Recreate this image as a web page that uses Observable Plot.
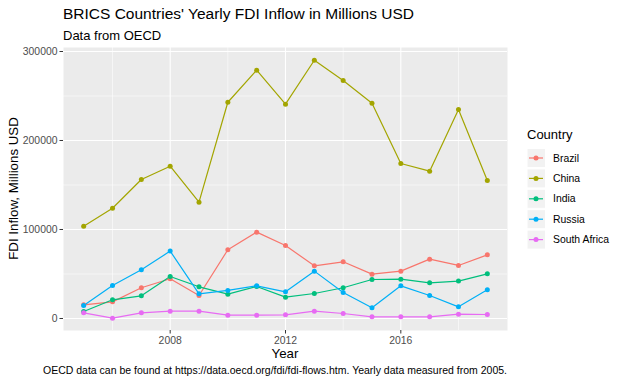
<!DOCTYPE html>
<html>
<head>
<meta charset="utf-8">
<script src="https://cdn.jsdelivr.net/npm/d3@7"></script>
<script src="https://cdn.jsdelivr.net/npm/@observablehq/plot@0.6"></script>
<style>
  html, body { margin: 0; padding: 0; background: white; }
  #chart svg { display: block; }
</style>
</head>
<body>
<div id="chart"></div>
<script>
// ---- Data ----
const years = [2005, 2006, 2007, 2008, 2009, 2010, 2011, 2012, 2013, 2014, 2015, 2016, 2017, 2018, 2019];
const countries = ["Brazil", "China", "India", "Russia", "South Africa"];
const colors = ["#F8766D", "#A3A500", "#00BF7D", "#00B0F6", "#E76BF3"];

const brazil      = [15400, 18700, 34500, 44600, 25800, 77200, 97000, 82000, 59200, 63700, 49800, 53200, 66700, 59600, 71500];
const china       = [103700, 123900, 156200, 171100, 130700, 243000, 279000, 240800, 290200, 267400, 241900, 174200, 165500, 234800, 155100];
const india       = [7900, 21000, 25500, 47200, 35600, 27300, 36000, 24000, 28100, 34500, 43800, 44200, 40100, 42000, 50200];
const russia      = [14600, 37100, 54700, 75700, 27700, 31500, 36700, 30000, 53200, 29200, 12000, 36700, 25800, 13100, 32200];
const southAfrica = [6400, 400, 6400, 8200, 8200, 3700, 3700, 4100, 8200, 5600, 1900, 1900, 1900, 4900, 4500];

const xTicks = [2008, 2012, 2016];
const xMinor = [2006, 2010, 2014, 2018];
const yTicks = [0, 100000, 200000, 300000];
const yMinor = [50000, 150000, 250000];

const titleText = "BRICS Countries' Yearly FDI Inflow in Millions USD";
const subtitleText = "Data from OECD";
const xLabel = "Year";
const yLabel = "FDI Inflow, Millions USD";
const legendTitle = "Country";
const captionText = "OECD data can be found at https://data.oecd.org/fdi/fdi-flows.htm. Yearly data measured from 2005.";

const series = [brazil, china, india, russia, southAfrica];
const data = [];
countries.forEach((c, i) => years.forEach((y, j) => data.push({country: c, year: y, value: series[i][j]})));

const FONT = "'Liberation Sans', Arial, sans-serif";
const W = 624, H = 385;
const mL = 63, mR = 117, mT = 47, mB = 55;

const plot = Plot.plot({
  width: W, height: H,
  marginLeft: mL, marginRight: mR, marginTop: mT, marginBottom: mB,
  style: {fontFamily: FONT, fontSize: "10.4px", background: "white", overflow: "visible"},
  x: {domain: [2004.3, 2019.7], label: null},
  y: {domain: [-13500, 304500], label: null},
  color: {domain: countries, range: colors},
  marks: [
    Plot.frame({fill: "#EBEBEB", stroke: "none"}),
    Plot.gridX({ticks: xMinor, stroke: "white", strokeOpacity: 1, strokeWidth: 0.55}),
    Plot.gridY({ticks: yMinor, stroke: "white", strokeOpacity: 1, strokeWidth: 0.55}),
    Plot.gridX({ticks: xTicks, stroke: "white", strokeOpacity: 1, strokeWidth: 1.1}),
    Plot.gridY({ticks: yTicks, stroke: "white", strokeOpacity: 1, strokeWidth: 1.1}),
    Plot.axisX({ticks: xTicks, tickSize: 3.5, tickPadding: 2.5, stroke: "#333333", fill: "#4D4D4D", tickFormat: d => String(d), label: null}),
    Plot.axisY({ticks: yTicks, tickSize: 3.5, tickPadding: 2.5, stroke: "#333333", fill: "#4D4D4D", tickFormat: d => String(d), label: null}),
    Plot.line(data, {x: "year", y: "value", z: "country", stroke: "country", strokeWidth: 1.2}),
    Plot.dot(data, {x: "year", y: "value", fill: "country", r: 2.5, stroke: "none"})
  ]
});

document.getElementById("chart").appendChild(plot);

// ---- Annotations: title, subtitle, axis titles, caption, legend ----
const svg = d3.select(plot);
const ann = svg.append("g").attr("font-family", FONT).attr("text-anchor", "start");

ann.append("text").attr("x", mL).attr("y", 18.5).attr("text-anchor", "start")
  .attr("font-size", "15.5px").attr("fill", "black").text(titleText);
ann.append("text").attr("x", mL).attr("y", 40).attr("text-anchor", "start")
  .attr("font-size", "13px").attr("fill", "black").text(subtitleText);
ann.append("text").attr("x", (mL + W - mR) / 2).attr("y", 358)
  .attr("text-anchor", "middle").attr("font-size", "13.3px").attr("fill", "black").text(xLabel);
ann.append("text")
  .attr("transform", `translate(18,${(mT + H - mB) / 2}) rotate(-90)`)
  .attr("text-anchor", "middle").attr("font-size", "13.3px").attr("fill", "black").text(yLabel);
ann.append("text").attr("x", W - mR).attr("y", 374)
  .attr("text-anchor", "end").attr("font-size", "10.5px").attr("fill", "black").text(captionText);

// Legend
const color = plot.scale("color");
const lg = ann.append("g");
lg.append("text").attr("x", 527).attr("y", 139).attr("text-anchor", "start")
  .attr("font-size", "13px").attr("fill", "black").text(legendTitle);
countries.forEach((c, i) => {
  const cy = 158 + i * 20.4;
  const row = lg.append("g");
  row.append("rect").attr("x", 527).attr("y", cy - 9.5).attr("width", 18.5).attr("height", 19)
    .attr("fill", "#F2F2F2").attr("stroke", "white").attr("stroke-width", 1);
  const col = color.range[color.domain.indexOf(c)];
  row.append("line").attr("x1", 529).attr("x2", 543).attr("y1", cy).attr("y2", cy)
    .attr("stroke", col).attr("stroke-width", 1.2);
  row.append("circle").attr("cx", 536).attr("cy", cy).attr("r", 2.5).attr("fill", col);
  row.append("text").attr("x", 553).attr("y", cy).attr("dy", "0.35em").attr("text-anchor", "start")
    .attr("font-size", "10.4px").attr("fill", "black").text(c);
});
</script>
</body>
</html>
